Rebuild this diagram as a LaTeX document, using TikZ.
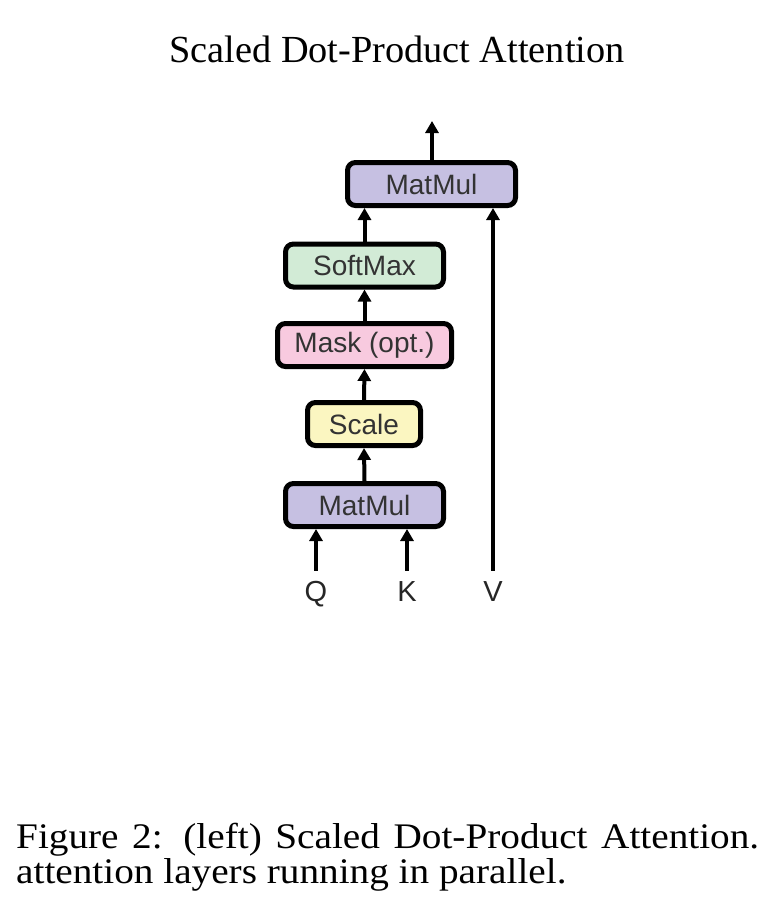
\documentclass[tikz,border=0pt]{standalone}
\usepackage{fontspec}
\setmainfont{Liberation Serif}
\newfontfamily\boxfont{Liberation Sans}
\newfontfamily\capfont[FakeStretch=1.09]{Liberation Serif}
\usetikzlibrary{arrows.meta,positioning}

\definecolor{matmulc}{HTML}{C6C0E2}
\definecolor{softc}{HTML}{D2EBD6}
\definecolor{maskc}{HTML}{F8CADF}
\definecolor{scalec}{HTML}{FBF6C1}

\begin{document}
\begin{tikzpicture}[x=1pt,y=-1pt,
    blk/.style={draw=black,line width=5pt,rounded corners=8pt,inner sep=0pt,
      minimum height=43pt,font=\boxfont\fontsize{28}{32}\selectfont,text=black!80},
    inp/.style={inner sep=0pt,anchor=base,font=\boxfont\fontsize{29}{34}\selectfont,text=black!85},
    arr/.style={line width=4pt,-{Triangle[width=13pt,length=12pt]}},
    captext/.style={anchor=base west,inner sep=0pt,font=\capfont\fontsize{36}{40}\selectfont}]
  \useasboundingbox (0,0) rectangle (770,898);

  \node[anchor=base,font=\fontsize{38.3}{44}\selectfont] (title) at (397,62) {Scaled Dot-Product Attention};

  % boxes
  \node[blk,fill=matmulc,minimum width=168pt] (mm2) at (431.5,184) {MatMul};
  \node[blk,fill=softc,minimum width=158pt] (soft) at (364.5,265.5) {SoftMax};
  \node[blk,fill=maskc,minimum width=174pt] (mask) at (364.5,345) {Mask (opt.)};
  \node[blk,fill=scalec,minimum width=113pt] (scale) at (364,424) {Scale};
  \node[blk,fill=matmulc,minimum width=158pt] (mm1) at (364.5,505) {MatMul};

  % inputs
  \node[inp] (Q) at (316,601) {Q};
  \node[inp] (K) at (407,601) {K};
  \node[inp] (V) at (493,601) {V};
  \coordinate (out) at (432,121);

  \foreach \a/\b in {mm1/scale,scale/mask,mask/soft} {
    \draw[arr] (\a.north) -- (\b.south);
  }
  \draw[arr] (soft.north) -- (soft.north |- mm2.south);
  \draw[arr] ([yshift=10pt]Q.north) -- (Q.north |- mm1.south);
  \draw[arr] ([yshift=10pt]K.north) -- (K.north |- mm1.south);
  \draw[arr] ([yshift=10pt]V.north) -- (V.north |- mm2.south);
  \draw[arr] (mm2.north -| out) -- (out);

  % caption
  \node[captext] (cap1) at (16,848) {\makebox[743pt][s]{Figure 2: (left) Scaled Dot-Product Attention.}};
  \node[captext] (cap2) at (16,883) {attention layers running in parallel.};
\end{tikzpicture}
\end{document}
